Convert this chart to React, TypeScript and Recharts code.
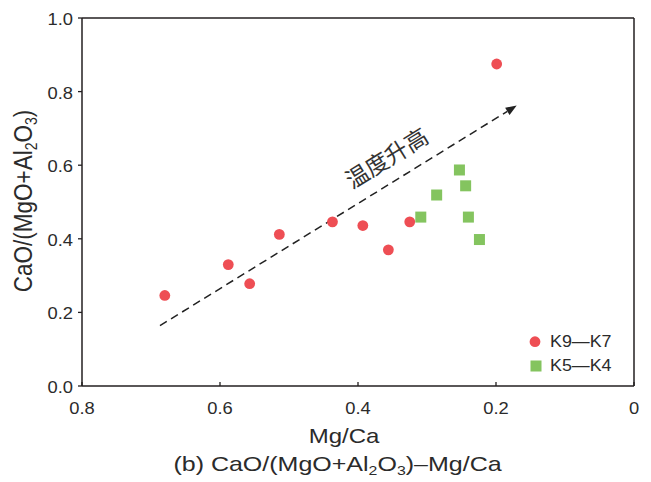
import React from 'react';
import { ScatterChart, Scatter, XAxis, YAxis, ReferenceLine, Legend } from 'recharts';

// Mg/Ca (x) and CaO/(MgO+Al2O3) (y) for each sample group
const k9k7MgCa = [0.68, 0.588, 0.557, 0.514, 0.437, 0.393, 0.356, 0.325, 0.199];
const k9k7CaO = [0.246, 0.33, 0.278, 0.412, 0.446, 0.436, 0.37, 0.446, 0.875];
const k5k4MgCa = [0.309, 0.286, 0.253, 0.244, 0.24, 0.224];
const k5k4CaO = [0.459, 0.519, 0.587, 0.544, 0.459, 0.398];

const seriesNames = ['K9—K7', 'K5—K4'];
const seriesColors = ['#ee4e54', '#84c45f'];

const xTicks = [0.8, 0.6, 0.4, 0.2, 0];
const yTicks = [0, 0.2, 0.4, 0.6, 0.8, 1.0];

// temperature trend arrow (data coordinates)
const trendFrom = { x: 0.687, y: 0.164 };
const trendTo = { x: 0.17, y: 0.762 };
const trendText = '温度升高';

const k9k7 = k9k7MgCa.map((x, i) => ({ x, y: k9k7CaO[i] }));
const k5k4 = k5k4MgCa.map((x, i) => ({ x, y: k5k4CaO[i] }));

const INK = '#231f20';
const TEXT = '#2b2b2b';
const FONT = '"Liberation Sans", Arial, Helvetica, sans-serif';

const fmtX = (v: number) => (v === 0 ? '0' : v.toFixed(1));
const fmtY = (v: number) => v.toFixed(1);

const XTick = (props: any) => {
  const { x, y, payload } = props;
  return (
    <g>
      <line x1={x} x2={x} y1={y} y2={y - 4} stroke={INK} strokeWidth={1.3} />
      <text
        transform={`translate(${x},${y + 27.5}) scale(1.08,1)`}
        textAnchor="middle"
        fontSize={17}
        fontFamily={FONT}
        fill={TEXT}
      >
        {fmtX(payload.value)}
      </text>
    </g>
  );
};

const YTick = (props: any) => {
  const { x, y, payload } = props;
  return (
    <g>
      <line x1={x - 4} x2={x} y1={y} y2={y} stroke={INK} strokeWidth={1.3} />
      <text
        transform={`translate(${x - 9},${y + 7}) scale(1.08,1)`}
        textAnchor="end"
        fontSize={17}
        fontFamily={FONT}
        fill={TEXT}
      >
        {fmtY(payload.value)}
      </text>
    </g>
  );
};

const Dot = (color: string) => (p: any) => <circle cx={p.cx} cy={p.cy} r={5.4} fill={color} />;
const Square = (color: string) => (p: any) => (
  <rect x={p.cx - 5.5} y={p.cy - 5.5} width={11} height={11} fill={color} />
);

const TrendArrow = (p: any) => {
  const { x1, y1, x2, y2 } = p;
  const dx = x2 - x1;
  const dy = y2 - y1;
  const len = Math.hypot(dx, dy);
  const ux = dx / len;
  const uy = dy / len;
  const nx = uy;
  const ny = -ux;
  const headLen = 11;
  const headHalf = 4.2;
  const bx = x2 - ux * headLen;
  const by = y2 - uy * headLen;
  const tx = x1 + ux * len * 0.67 + nx * 25;
  const ty = y1 + uy * len * 0.67 + ny * 25;
  const angle = (Math.atan2(dy, dx) * 180) / Math.PI;
  return (
    <g>
      <line x1={x1} y1={y1} x2={bx} y2={by} stroke="#222" strokeWidth={1.5} strokeDasharray="8 5" />
      <polygon
        points={`${x2},${y2} ${bx + nx * headHalf},${by + ny * headHalf} ${bx - nx * headHalf},${by - ny * headHalf}`}
        fill="#222"
      />
      <text
        x={tx}
        y={ty}
        transform={`rotate(${angle} ${tx} ${ty})`}
        textAnchor="middle"
        dominantBaseline="central"
        fontSize={23}
        fontFamily='"Noto Sans CJK SC", sans-serif'
        fill="#333"
      >
        {trendText}
      </text>
    </g>
  );
};

const LegendBox = () => (
  <svg width={110} height={52} style={{ display: 'block' }}>
    <circle cx={15} cy={13.7} r={5.4} fill={seriesColors[0]} />
    <text transform="translate(30,19.3) scale(1.05,1)" fontSize={17} fontFamily={FONT} fill={TEXT}>
      {seriesNames[0]}
    </text>
    <rect x={10.5} y={32.5} width={11} height={11} fill={seriesColors[1]} />
    <text transform="translate(30,43.3) scale(1.05,1)" fontSize={17} fontFamily={FONT} fill={TEXT}>
      {seriesNames[1]}
    </text>
  </svg>
);

export default function App() {
  return (
    <div style={{ position: 'absolute', left: 0, top: 0, width: 651, height: 482, background: '#fff' }}>
      <ScatterChart width={651} height={482} margin={{ top: 18, right: 17, bottom: 66, left: 0 }}>
        <XAxis
          type="number"
          dataKey="x"
          domain={[0, 0.8]}
          reversed
          ticks={xTicks}
          interval={0}
          height={30}
          allowDataOverflow
          axisLine={{ stroke: INK, strokeWidth: 1.5 }}
          tickLine={false}
          tickSize={0}
          tickMargin={0}
          tick={<XTick />}
        />
        <YAxis
          type="number"
          dataKey="y"
          domain={[0, 1]}
          ticks={yTicks}
          interval={0}
          width={82}
          allowDataOverflow
          axisLine={{ stroke: INK, strokeWidth: 1.5 }}
          tickLine={false}
          tickSize={0}
          tickMargin={0}
          tick={<YTick />}
        />
        <ReferenceLine y={1} stroke={INK} strokeWidth={1.5} />
        <ReferenceLine x={0} stroke={INK} strokeWidth={1.5} />
        <ReferenceLine segment={[trendFrom, trendTo]} shape={TrendArrow} />
        <Scatter
          name={seriesNames[0]}
          data={k9k7}
          fill={seriesColors[0]}
          shape={Dot(seriesColors[0])}
          isAnimationActive={false}
        />
        <Scatter
          name={seriesNames[1]}
          data={k5k4}
          fill={seriesColors[1]}
          shape={Square(seriesColors[1])}
          isAnimationActive={false}
        />
        <Legend
          layout="vertical"
          align="center"
          verticalAlign="middle"
          content={<LegendBox />}
          wrapperStyle={{ position: 'absolute', left: 520, top: 328, width: 110, height: 52 }}
        />
      </ScatterChart>
      <svg
        width={651}
        height={482}
        style={{ position: 'absolute', left: 0, top: 0, pointerEvents: 'none' }}
      >
        <text
          transform="translate(31.5,201) scale(1.12,1) rotate(-90)"
          textAnchor="middle"
          fontSize={22.5}
          fontFamily={FONT}
          fill={TEXT}
        >
          CaO/(MgO+Al
          <tspan fontSize={14} dy={5}>2</tspan>
          <tspan dy={-5}>O</tspan>
          <tspan fontSize={14} dy={5}>3</tspan>
          <tspan dy={-5}>)</tspan>
        </text>
        <text
          transform="translate(344,442.5) scale(1.2,1)"
          textAnchor="middle"
          fontSize={20}
          fontFamily={FONT}
          fill={TEXT}
        >
          Mg/Ca
        </text>
        <text
          transform="translate(337.5,471) scale(1.22,1)"
          textAnchor="middle"
          fontSize={20.5}
          fontFamily={FONT}
          fill={TEXT}
        >
          (b) CaO/(MgO+Al
          <tspan fontSize={13} dy={4}>2</tspan>
          <tspan dy={-4}>O</tspan>
          <tspan fontSize={13} dy={4}>3</tspan>
          <tspan dy={-4}>)–Mg/Ca</tspan>
        </text>
      </svg>
    </div>
  );
}
